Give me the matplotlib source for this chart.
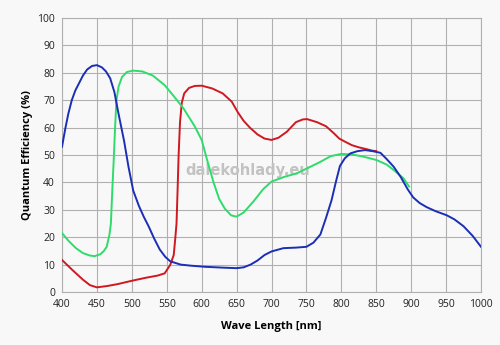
import matplotlib
matplotlib.use("Agg")
import matplotlib.pyplot as plt

# Quantum efficiency curves (wavelength in nm, QE in %)
blue_nm = [400, 405, 409, 414, 419, 425, 430, 436, 443, 450, 457, 463, 469, 475, 481, 489,
           495, 502, 510, 517, 524, 532, 540, 548, 555, 570, 585, 605, 630, 650, 660, 670,
           680, 690, 700, 717, 735, 750, 760, 770, 778, 786, 792, 798, 805, 813, 823, 834,
           845, 856, 865, 875, 885, 895, 903, 912, 922, 935, 951, 962, 975, 988, 1000]
blue_qe = [53, 60, 65, 70, 73.5, 76.5, 79, 81.2, 82.5, 82.8, 82, 80.5, 78, 73, 65, 55,
           46, 37, 31.5, 27.5, 24, 19.5, 15.5, 12.8, 11.2, 10, 9.6, 9.2, 8.9, 8.7, 9, 10,
           11.5, 13.5, 14.8, 16, 16.2, 16.5, 18, 21, 27, 33.5, 40, 46, 48.8, 50.6, 51.4, 51.8,
           51.4, 50.8, 48.5, 45.7, 42, 37.5, 34.5, 32.5, 31, 29.5, 28, 26.5, 24, 20.5, 16.5]

green_nm = [400, 410, 420, 430, 440, 447, 455, 460, 464, 468, 470, 472, 474, 476, 478, 481,
            486, 493, 502, 515, 530, 547, 560, 574, 590, 600, 608, 617, 625, 633, 642, 650,
            660, 674, 688, 700, 718, 736, 750, 770, 785, 800, 815, 830, 850, 865, 875, 889, 897]
green_qe = [21.5, 18.5, 16, 14.2, 13.3, 13.1, 13.8, 15, 16.5, 21, 25, 37, 48, 60, 70, 75,
            78.5, 80.3, 80.8, 80.5, 79, 75.5, 71.5, 67, 60.5, 55.5, 48, 40, 34, 30.5, 28, 27.5,
            29, 33, 37.5, 40.3, 42, 43.3, 45, 47.5, 49.6, 50.4, 50.2, 49.5, 48.2, 46.5, 44.5, 41.5, 38.5]

red_nm = [400, 415, 430, 440, 450, 465, 480, 500, 520, 537, 547, 555, 560, 562, 564, 565.5,
          567, 569, 571.5, 575, 582, 590, 600, 615, 630, 643, 652, 660, 669, 680, 690, 700,
          710, 722, 735, 745, 751, 765, 778, 789, 797, 805, 815, 825, 835, 844, 850]
red_qe = [11.7, 8, 4.5, 2.5, 1.7, 2.2, 2.9, 4.1, 5.2, 6, 6.8, 9.9, 13.5, 19, 25, 37,
          50, 62, 69, 72.5, 74.5, 75.2, 75.3, 74.3, 72.5, 69.5, 65.5, 62.5, 60, 57.5, 56, 55.5,
          56.3, 58.5, 62, 63, 63.1, 62, 60.5, 58, 56, 54.9, 53.6, 52.8, 52.2, 51.6, 51.4]

x_ticks = list(range(400, 1001, 50))
y_ticks = list(range(0, 101, 10))

plt.rcParams['font.family'] = ['Open Sans', 'DejaVu Sans']

bg = '#f8f8f8'
fig = plt.figure(figsize=(5, 3.45), dpi=100, facecolor=bg)
ax = fig.add_axes([0.124, 0.1536, 0.838, 0.7942], facecolor=bg)

ax.plot(red_nm, red_qe, color='#d01820', lw=1.4, zorder=3)
ax.plot(green_nm, green_qe, color='#2edc6c', lw=1.4, zorder=4)
ax.plot(blue_nm, blue_qe, color='#1a2fb4', lw=1.4, zorder=5)

ax.set_xlim(400, 1000)
ax.set_ylim(0, 100)
ax.set_xticks(x_ticks)
ax.set_yticks(y_ticks)
ax.tick_params(length=0, pad=5, labelsize=7.5, colors='#222222')
ax.grid(True, color='#b0b0b0', lw=0.8, zorder=0)
for s in ax.spines.values():
    s.set_color('#b0b0b0')
    s.set_linewidth(0.8)

ax.set_xlabel('Wave Length [nm]', fontsize=8, fontweight='bold', labelpad=8)
ax.set_ylabel('Quantum Efficiency (%)', fontsize=8, fontweight='bold', labelpad=3)

ax.text(0.444, 0.445, 'dalekohlady.eu', transform=ax.transAxes, ha='center', va='center',
        fontsize=10.5, fontweight='bold', color='#c2c2c2', family='DejaVu Sans', zorder=2)

fig.savefig('out.png', dpi=100, facecolor=bg)
